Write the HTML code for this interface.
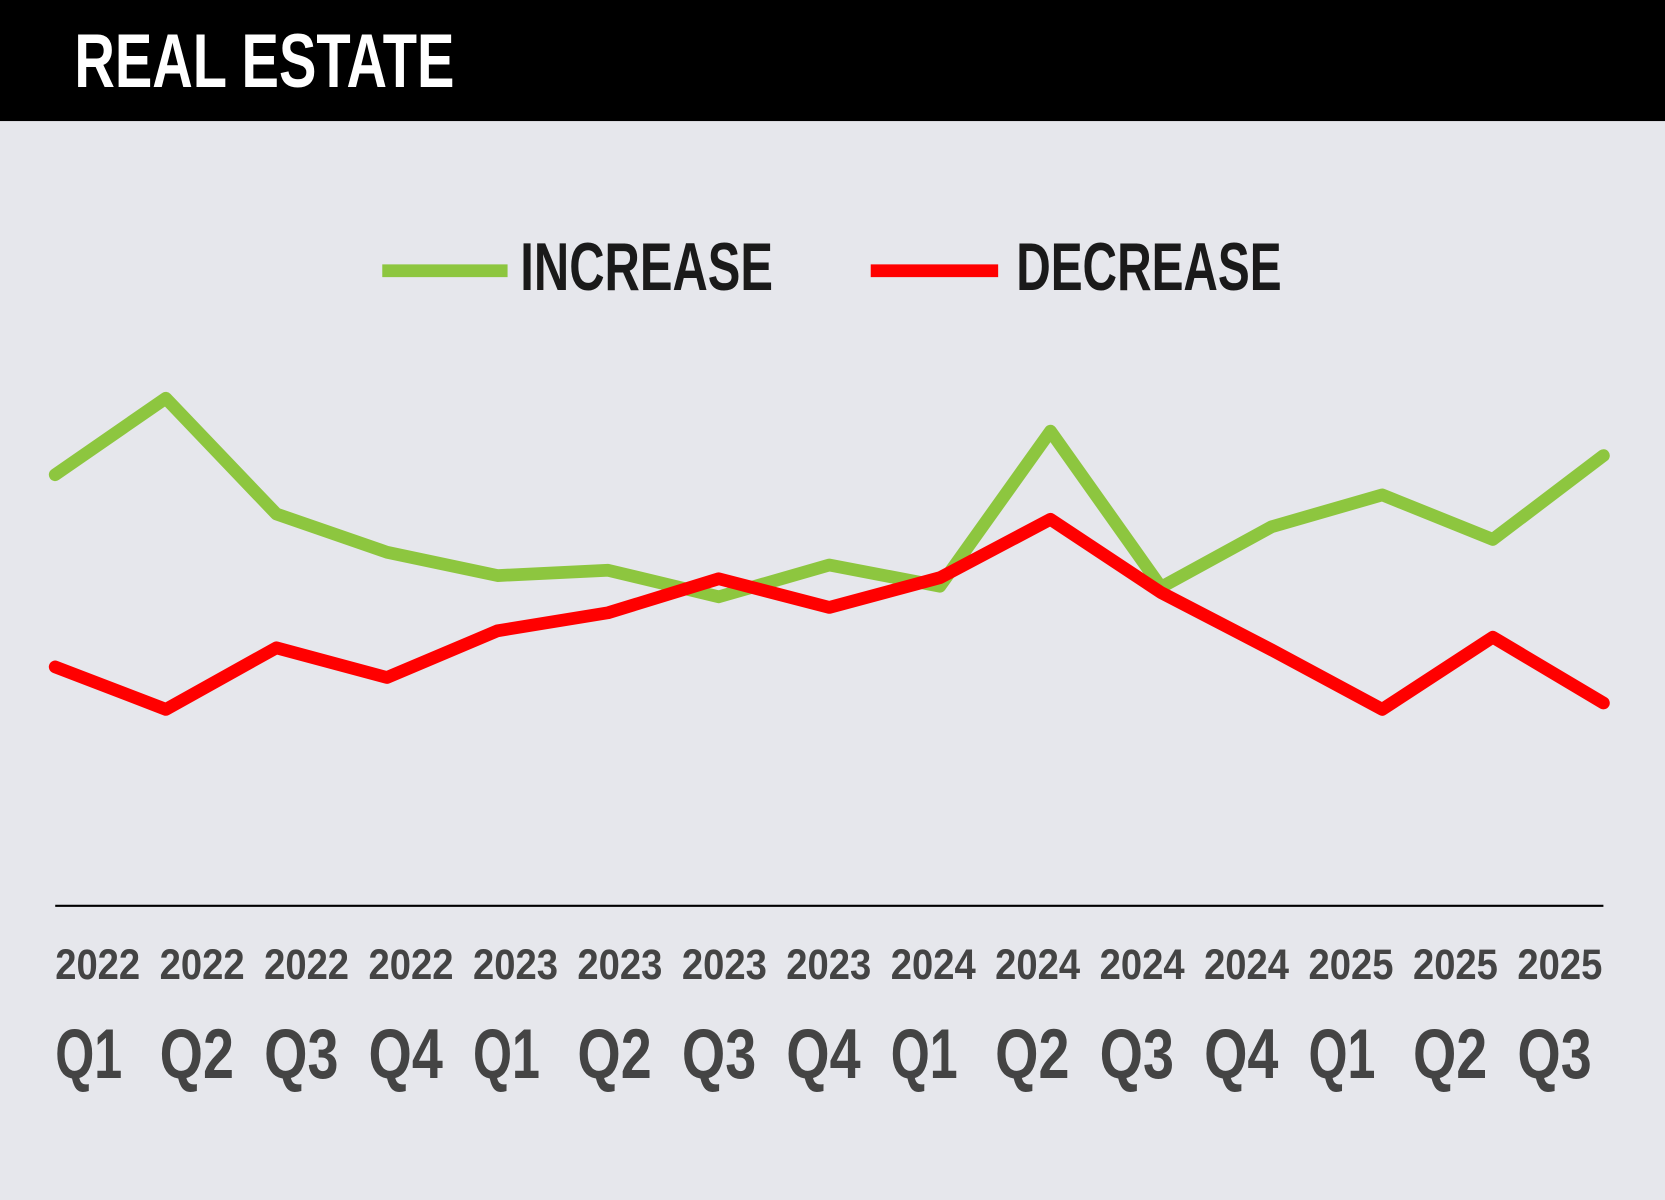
<!DOCTYPE html>
<html><head><meta charset="utf-8"><style>
html,body{margin:0;padding:0;background:#e6e7ec;}
svg{display:block;}
text{font-family:"Liberation Sans Narrow","Liberation Sans",sans-serif;font-weight:bold;}
</style></head><body>
<svg id="chart" width="1665" height="1200" viewBox="0 0 1568 1130" preserveAspectRatio="none" xmlns="http://www.w3.org/2000/svg">
<rect x="0" y="0" width="1568" height="1130" fill="#e6e7ec"/>
<rect x="0" y="0" width="1568" height="114" fill="#000"/>
<text x="70" y="82" fill="#fff" font-size="72" textLength="358" lengthAdjust="spacingAndGlyphs">REAL ESTATE</text>
<g>
<line x1="360" y1="255" x2="478" y2="255" stroke="#8dc63f" stroke-width="12"/>
<text x="490" y="273" fill="#1a1a1a" font-size="64" textLength="238" lengthAdjust="spacingAndGlyphs">INCREASE</text>
<line x1="820" y1="255" x2="940" y2="255" stroke="#ff0000" stroke-width="12"/>
<text x="957" y="273" fill="#1a1a1a" font-size="64" textLength="250" lengthAdjust="spacingAndGlyphs">DECREASE</text>
</g>
<line x1="52" y1="853" x2="1510" y2="853" stroke="#000" stroke-width="2"/>
<g id="series"></g>
<g id="labels"></g>
</svg>
<script>
const years = ["2022","2022","2022","2022","2023","2023","2023","2023","2024","2024","2024","2024","2025","2025","2025"];
const quarters = ["Q1","Q2","Q3","Q4","Q1","Q2","Q3","Q4","Q1","Q2","Q3","Q4","Q1","Q2","Q3"];
const increase = [81.2,95.6,73.8,66.6,62.2,63.2,58.2,64.2,60.2,89.4,60,71.4,77.4,69,84.8];
const decrease = [45,37,48.6,43,51.8,55.2,61.6,56.2,61.8,72.8,59,48.2,37,50.6,38.2];

const NS = "http://www.w3.org/2000/svg";
const x0 = 52, x1 = 1510, yBase = 853, yPer = 5;
function xScale(i){ return x0 + i*(x1-x0)/(years.length-1); }
function yScale(v){ return yBase - v*yPer; }

function drawLine(vals, color, name){
  const p = document.createElementNS(NS,"polyline");
  p.setAttribute("points", vals.map((v,i)=>xScale(i)+","+yScale(v)).join(" "));
  p.setAttribute("fill","none");
  p.setAttribute("stroke",color);
  p.setAttribute("stroke-width","12");
  p.setAttribute("stroke-linejoin","round");
  p.setAttribute("stroke-linecap","round");
  
  
  document.getElementById("series").appendChild(p);
}
drawLine(increase,"#8dc63f","increase-line");
drawLine(decrease,"#ff0000","decrease-line");

const lg = document.getElementById("labels");
const step = (1509-52-80)/(years.length-1);
years.forEach((y,i)=>{
  const t = document.createElementNS(NS,"text");
  t.setAttribute("x", 52 + i*step);
  t.setAttribute("y", 922);
  t.setAttribute("fill","#444");
  t.setAttribute("font-size","40");
  t.setAttribute("textLength","80");
  t.setAttribute("lengthAdjust","spacingAndGlyphs");
  t.textContent = y;
  
  
  lg.appendChild(t);
  const q = document.createElementNS(NS,"text");
  q.setAttribute("x", 52 + i*step);
  q.setAttribute("y", 1015);
  q.setAttribute("fill","#444");
  q.setAttribute("font-size","66");
  q.setAttribute("textLength", quarters[i]==="Q1" ? "63" : "70");
  q.setAttribute("lengthAdjust","spacingAndGlyphs");
  q.textContent = quarters[i];
  
  
  lg.appendChild(q);
});
</script>
</body></html>
